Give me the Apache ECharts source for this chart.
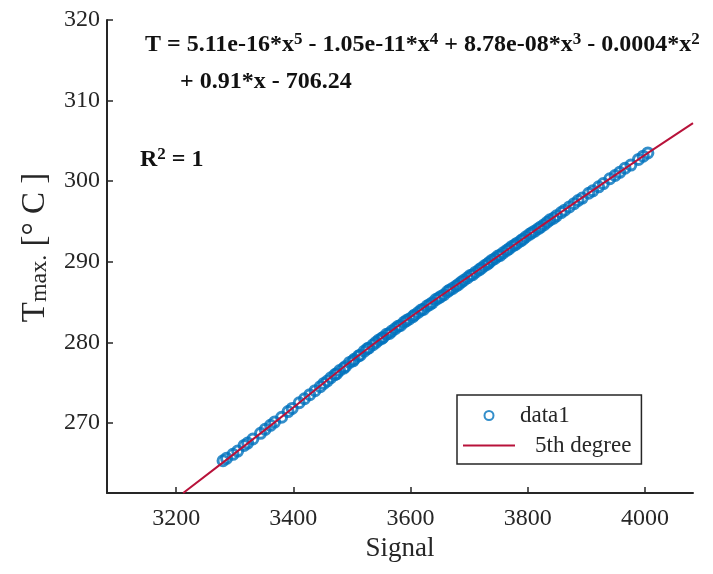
<!DOCTYPE html>
<html>
<head>
<meta charset="utf-8">
<script src="https://cdn.jsdelivr.net/npm/echarts@6/dist/echarts.min.js"></script>
<style>
  html, body { margin: 0; padding: 0; background: #fff; }
  #chart { width: 713px; height: 574px; }
</style>
</head>
<body>
<div id="chart"></div>
<script>
// Measured calibration points: sensor signal vs. maximum temperature
const signal = [
  3280, 3286, 3297, 3305, 3316, 3322, 3331, 3344, 3352, 3361, 3368, 3380, 3391, 3398,
  3410, 3419, 3428, 3437, 3446, 3452, 3458, 3464, 3471, 3474, 3479, 3486, 3489, 3496,
  3502, 3504, 3511, 3514, 3521, 3526, 3529, 3536, 3541, 3546, 3551, 3553, 3559, 3564,
  3568, 3574, 3579, 3583, 3589, 3593, 3598, 3604, 3607, 3613, 3618, 3622, 3628, 3633,
  3637, 3643, 3648, 3652, 3657, 3663, 3667, 3672, 3678, 3682, 3687, 3691, 3697, 3702,
  3706, 3711, 3717, 3721, 3726, 3731, 3734, 3739, 3744, 3749, 3753, 3758, 3764, 3768,
  3773, 3778, 3782, 3788, 3792, 3797, 3803, 3807, 3812, 3818, 3822, 3828, 3833, 3838,
  3844, 3849, 3857, 3863, 3871, 3879, 3886, 3893, 3904, 3911, 3921, 3929, 3940, 3949,
  3957, 3966, 3976, 3989, 3997, 4005
];
const temperature = [
  265.3, 265.6, 266.1, 266.5, 267.2, 267.5, 268.0, 268.7, 269.2, 269.7, 270.1, 270.7, 271.4, 271.8,
  272.5, 273.0, 273.5, 274.0, 274.5, 274.9, 275.2, 275.6, 276.0, 276.1, 276.5, 276.8, 277.0, 277.5,
  277.7, 277.9, 278.3, 278.4, 278.9, 279.2, 279.3, 279.7, 280.0, 280.3, 280.5, 280.6, 281.0, 281.1,
  281.4, 281.7, 282.0, 282.1, 282.5, 282.7, 282.9, 283.2, 283.4, 283.7, 284.0, 284.1, 284.5, 284.7,
  284.9, 285.3, 285.5, 285.7, 285.9, 286.3, 286.5, 286.7, 287.0, 287.2, 287.5, 287.7, 288.0, 288.3,
  288.4, 288.7, 289.0, 289.2, 289.5, 289.7, 289.9, 290.2, 290.4, 290.7, 290.8, 291.1, 291.4, 291.6,
  291.9, 292.1, 292.3, 292.6, 292.8, 293.1, 293.4, 293.6, 293.8, 294.1, 294.3, 294.6, 294.9, 295.2,
  295.4, 295.7, 296.1, 296.4, 296.8, 297.2, 297.6, 297.9, 298.5, 298.8, 299.3, 299.7, 300.3, 300.7,
  301.1, 301.6, 302.0, 302.7, 303.1, 303.5
];

// 5th degree polynomial fit curve
const fitSignal = [3212, 3367, 3541, 3736, 3934, 4082];
const fitTemperature = [261.3, 270, 280, 290, 300, 307.2];

// Axis ticks
const xTicks = [3200, 3400, 3600, 3800, 4000];
const yTicks = [270, 280, 290, 300, 310, 320];

const seriesNames = ['data1', '5th degree'];

const SERIF = '"Liberation Serif", "DejaVu Serif", serif';
const INK = '#262626';
const BLUE = '#0072BD';
const RED = '#B8123A';

const chart = echarts.init(document.getElementById('chart'), null, { renderer: 'canvas' });

const axisCommon = {
  type: 'value',
  axisLine: { show: true, lineStyle: { color: INK, width: 2 } },
  axisTick: { show: true, inside: true, length: 6, lineStyle: { color: INK, width: 1.5 } },
  splitLine: { show: false },
  axisLabel: { color: INK, fontFamily: SERIF, fontSize: 24, formatter: v => String(v) }
};

// Rich styles for bold text with superscripts
const boldRich = {
  m: { fontFamily: SERIF, fontWeight: 'bold', fontSize: 24, lineHeight: 26, verticalAlign: 'bottom' },
  p: { fontFamily: SERIF, fontWeight: 'bold', fontSize: 17, lineHeight: 17, padding: [0, 0, 19, 0], verticalAlign: 'top' }
};

chart.setOption({
  animation: false,
  backgroundColor: '#fff',
  grid: { left: 107, right: 20, top: 20, bottom: 81, containLabel: false, outerBoundsMode: 'none' },
  xAxis: Object.assign({}, axisCommon, {
    min: 3082,
    max: 4082,
    axisTick: Object.assign({}, axisCommon.axisTick, { customValues: xTicks }),
    axisLabel: Object.assign({}, axisCommon.axisLabel, { customValues: xTicks, margin: 14 }),
    name: 'Signal',
    nameLocation: 'middle',
    nameGap: 35,
    nameTextStyle: { color: INK, fontFamily: SERIF, fontSize: 27 }
  }),
  yAxis: Object.assign({}, axisCommon, {
    min: 261.3,
    max: 320,
    axisTick: Object.assign({}, axisCommon.axisTick, { customValues: yTicks }),
    axisLabel: Object.assign({}, axisCommon.axisLabel, { customValues: yTicks, margin: 7 }),
    name: '{t|T}{s|max.}{t| [° C ]}',
    nameLocation: 'middle',
    nameRotate: 90,
    nameGap: 55,
    nameTextStyle: {
      color: INK,
      fontFamily: SERIF,
      padding: [0, 0, 0, 18],
      rich: {
        t: { fontSize: 33, fontFamily: SERIF, color: INK, lineHeight: 33, verticalAlign: 'top' },
        s: { fontSize: 24, fontFamily: SERIF, color: INK, lineHeight: 24, padding: [24, 0, 0, 0], verticalAlign: 'bottom' }
      }
    }
  }),
  legend: {
    orient: 'vertical',
    left: 457,
    top: 395,
    backgroundColor: '#fff',
    borderColor: INK,
    borderWidth: 1.5,
    borderRadius: 0,
    padding: [9, 10, 7, 6],
    itemWidth: 52,
    itemHeight: 9,
    itemGap: 7,
    textStyle: { color: INK, fontFamily: SERIF, fontSize: 23 },
    data: [
      {
        name: seriesNames[0],
        icon: 'circle',
        itemStyle: { color: '#fff', borderColor: BLUE, borderWidth: 2 }
      },
      {
        name: seriesNames[1],
        icon: 'path://M0,0H52V2H0Z',
        itemStyle: { color: RED, borderWidth: 0 },
        textStyle: { padding: [0, 0, 0, 15] }
      }
    ]
  },
  graphic: [
    {
      type: 'text',
      left: 145,
      top: 31,
      style: {
        text: '{m|T = 5.11e-16*x}{p|5}{m| - 1.05e-11*x}{p|4}{m| + 8.78e-08*x}{p|3}{m| - 0.0004*x}{p|2}',
        fill: '#111',
        rich: boldRich
      }
    },
    {
      type: 'text',
      left: 180,
      top: 70,
      style: {
        text: '+ 0.91*x - 706.24',
        font: 'bold 24px ' + SERIF,
        fill: '#111'
      }
    },
    {
      type: 'text',
      left: 140,
      top: 146,
      style: {
        text: '{m|R}{p|2}{m| = 1}',
        fill: '#111',
        rich: boldRich
      }
    }
  ],
  series: [
    {
      name: seriesNames[0],
      type: 'scatter',
      symbol: 'circle',
      symbolSize: 10,
      itemStyle: { color: 'rgba(0,0,0,0)', borderColor: BLUE, borderWidth: 3 },
      data: signal.map((s, i) => [s, temperature[i]])
    },
    {
      name: seriesNames[1],
      type: 'line',
      smooth: true,
      symbol: 'none',
      showSymbol: false,
      lineStyle: { color: RED, width: 2 },
      itemStyle: { color: RED },
      data: fitSignal.map((s, i) => [s, fitTemperature[i]])
    }
  ]
});
</script>
</body>
</html>
